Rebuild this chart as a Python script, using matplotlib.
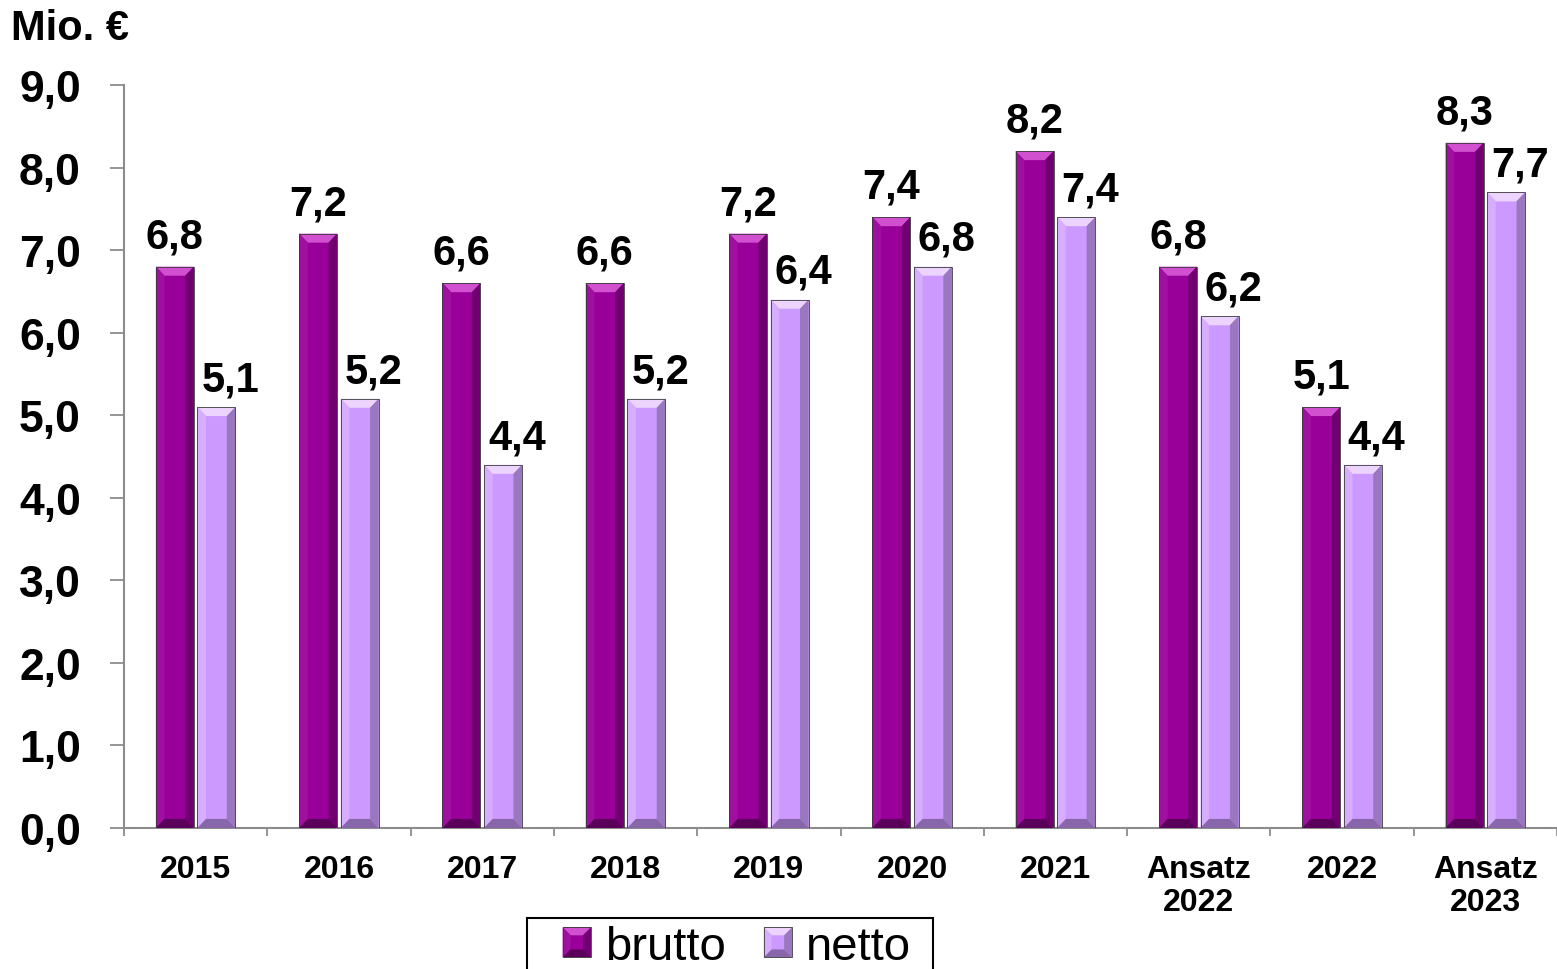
"""Bar chart: brutto vs. netto in Mio. EUR, 2015 to Ansatz 2023."""

import matplotlib

matplotlib.use("Agg")
import matplotlib.pyplot as plt
import numpy as np
from matplotlib.legend_handler import HandlerBase
from matplotlib.patches import Patch, Polygon, Rectangle

plt.rcParams["font.family"] = ["Liberation Sans", "DejaVu Sans"]

CATEGORIES = ["2015", "2016", "2017", "2018", "2019", "2020", "2021",
              "Ansatz\n2022", "2022", "Ansatz\n2023"]
BRUTTO = [6.8, 7.2, 6.6, 6.6, 7.2, 7.4, 8.2, 6.8, 5.1, 8.3]
NETTO = [5.1, 5.2, 4.4, 5.2, 6.4, 6.8, 7.4, 6.2, 4.4, 7.7]
Y_TICKS = [0, 1, 2, 3, 4, 5, 6, 7, 8, 9]

# main, top highlight, left, right, bottom
PAL_BRUTTO = ["#990099", "#d050d0", "#a010a0", "#700070", "#5a005a"]
PAL_NETTO = ["#cc99ff", "#ecd4ff", "#d6adff", "#9a78c0", "#8866aa"]
AXIS_GREY = "#8c8c8c"


def bevel(ax, rect, pal, bx, by):
    x0, w, h = rect.get_x(), rect.get_width(), rect.get_height()
    x1 = x0 + w
    pieces = [
        ([(x0, h), (x1, h), (x1 - bx, h - by), (x0 + bx, h - by)], pal[1]),
        ([(x0, h), (x0 + bx, h - by), (x0 + bx, by), (x0, 0)], pal[2]),
        ([(x1, h), (x1 - bx, h - by), (x1 - bx, by), (x1, 0)], pal[3]),
        ([(x0, 0), (x1, 0), (x1 - bx, by), (x0 + bx, by)], pal[4]),
    ]
    for pts, c in pieces:
        ax.add_patch(Polygon(pts, closed=True, facecolor=c, edgecolor="none", zorder=3))
    ax.add_patch(Polygon([(x0, 0), (x0, h), (x1, h), (x1, 0)], closed=True,
                         facecolor="none", edgecolor="#3a3a3a", linewidth=0.6, zorder=4))


class BevelHandler(HandlerBase):
    def create_artists(self, legend, orig_handle, xdescent, ydescent, width, height, fontsize, trans):
        pal = orig_handle.pal
        x0, y0 = -xdescent, -ydescent
        x1, y1 = x0 + width, y0 + height
        b = width * 0.28
        pieces = [
            ([(x0, y0), (x1, y0), (x1, y1), (x0, y1)], pal[0]),
            ([(x0, y1), (x1, y1), (x1 - b, y1 - b), (x0 + b, y1 - b)], pal[1]),
            ([(x0, y1), (x0 + b, y1 - b), (x0 + b, y0 + b), (x0, y0)], pal[2]),
            ([(x1, y1), (x1 - b, y1 - b), (x1 - b, y0 + b), (x1, y0)], pal[3]),
            ([(x0, y0), (x1, y0), (x1 - b, y0 + b), (x0 + b, y0 + b)], pal[4]),
        ]
        arts = []
        for pts, c in pieces:
            arts.append(Polygon(pts, closed=True, facecolor=c, edgecolor="none", transform=trans))
        arts.append(Polygon([(x0, y0), (x1, y0), (x1, y1), (x0, y1)], closed=True,
                            facecolor="none", edgecolor="#3a3a3a", linewidth=0.6, transform=trans))
        return arts


fig = plt.figure(figsize=(15.57, 9.70), dpi=100)
ax = fig.add_axes([124 / 1557, 141 / 970, 1 - 124 / 1557, (829 - 86) / 970])

x = np.arange(len(CATEGORIES))
w = 0.265
off = 0.145
bars_b = ax.bar(x - off, BRUTTO, w, color=PAL_BRUTTO[0], zorder=2)
bars_n = ax.bar(x + off, NETTO, w, color=PAL_NETTO[0], zorder=2)
for r in bars_b:
    bevel(ax, r, PAL_BRUTTO, 0.06, 0.11)
for r in bars_n:
    bevel(ax, r, PAL_NETTO, 0.06, 0.11)

for r, v in zip(bars_b, BRUTTO):
    ax.annotate(f"{v:.1f}".replace(".", ","), (r.get_x() + r.get_width() / 2, v),
                xytext=(0, 14), textcoords="offset points", ha="center", va="baseline",
                fontsize=30, fontweight="bold", zorder=5)
for r, v in zip(bars_n, NETTO):
    ax.annotate(f"{v:.1f}".replace(".", ","), (r.get_x() + r.get_width() / 2, v),
                xytext=(10, 12), textcoords="offset points", ha="center", va="baseline",
                fontsize=30, fontweight="bold", zorder=5)

ax.set_xlim(-0.5, len(CATEGORIES) - 0.5)
ax.set_ylim(0, 9)
ax.set_yticks(Y_TICKS)
ax.set_yticklabels([f"{t:.1f}".replace(".", ",") for t in Y_TICKS], fontsize=32, fontweight="bold")
ax.tick_params(axis="y", length=10, width=1.3, color=AXIS_GREY, pad=21)

ax.set_xticks(x)
ax.set_xticklabels(CATEGORIES, fontsize=23, fontweight="bold", linespacing=1.12)
ax.set_xticks(np.arange(len(CATEGORIES) + 1) - 0.5, minor=True)
ax.tick_params(axis="x", which="major", length=0, pad=19)
ax.tick_params(axis="x", which="minor", length=6, width=1.3, color=AXIS_GREY)

for s in ("top", "right"):
    ax.spines[s].set_visible(False)
for s in ("left", "bottom"):
    ax.spines[s].set_color(AXIS_GREY)
    ax.spines[s].set_linewidth(1.5)

fig.text(11 / 1557, 1 - 40 / 970, "Mio. €", fontsize=30, fontweight="bold", va="baseline")

# legend frame runs off the bottom edge like in the original
fig.patches.append(Rectangle((527 / 1557, -0.01), (933 - 527) / 1557, 0.01 + (970 - 919) / 970,
                             transform=fig.transFigure, facecolor="white", edgecolor="black",
                             linewidth=1.5))
hb = Patch(label="brutto")
hb.pal = PAL_BRUTTO
hn = Patch(label="netto")
hn.pal = PAL_NETTO
fig.legend(handles=[hb, hn], loc="center", bbox_to_anchor=(737 / 1557, 1 - 948 / 970),
           ncol=2, fontsize=34, frameon=False,
           handlelength=0.6, handleheight=0.6, handletextpad=0.3, columnspacing=0.8,
           borderpad=0, borderaxespad=0,
           handler_map={Patch: BevelHandler()})

fig.savefig("out.png", dpi=100)
